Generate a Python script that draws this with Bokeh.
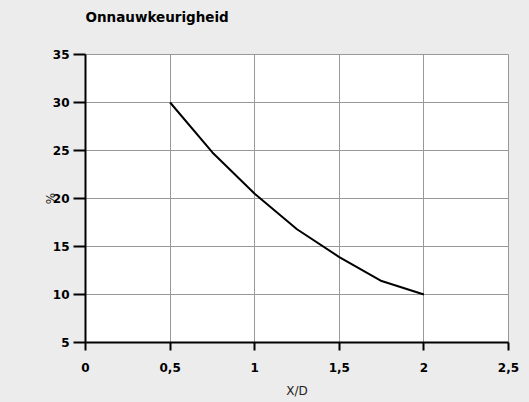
from bokeh.plotting import figure
from bokeh.embed import file_html
from bokeh.resources import INLINE
from bokeh.models import FixedTicker, Range1d, Title

x_vals = [0.5, 0.75, 1.0, 1.25, 1.5, 1.75, 2.0]
y_vals = [30.0, 24.8, 20.5, 16.8, 13.9, 11.4, 10.0]
x_ticks = [0, 0.5, 1, 1.5, 2, 2.5]
x_tick_labels = ["0", "0,5", "1", "1,5", "2", "2,5"]
y_ticks = [5, 10, 15, 20, 25, 30, 35]
title_text = "Onnauwkeurigheid"

BG = "#ececec"
FONT = "DejaVu Sans"

p = figure(frame_width=423, frame_height=288, output_backend="svg", toolbar_location=None,
           x_range=Range1d(0, 2.5), y_range=Range1d(5, 35),
           min_border_left=85, min_border_right=13, min_border_top=54, min_border_bottom=52)
p.background_fill_color = "white"
p.border_fill_color = BG
p.outline_line_color = "#999999"
p.outline_line_width = 1

# main title (outermost panel); an invisible spacer panel sits between it and the frame
p.title.text = title_text
p.title.text_font = FONT
p.title.text_font_size = "13.5px"
p.title.text_font_style = "bold"
p.title.text_color = "black"
p.title.align = "left"
p.title.offset = 0
p.title.standoff = 0
spacer = Title(text=" ", text_font_size="1px", standoff=27)
p.add_layout(spacer, "above")

p.line(x_vals, y_vals, line_color="black", line_width=2)

p.xaxis.ticker = FixedTicker(ticks=x_ticks)
p.xaxis.major_label_overrides = {t: l for t, l in zip(x_ticks, x_tick_labels)}
p.yaxis.ticker = FixedTicker(ticks=y_ticks)

for ax in (p.xaxis, p.yaxis):
    ax.axis_line_color = "black"
    ax.axis_line_width = 2
    ax.major_tick_line_color = "black"
    ax.major_tick_line_width = 2
    ax.minor_tick_line_color = None
    ax.major_tick_in = 0
    ax.major_label_text_font = FONT
    ax.major_label_text_font_style = "bold"
    ax.major_label_text_font_size = "12px"
    ax.major_label_text_color = "black"
    ax.axis_label_text_font = FONT
    ax.axis_label_text_font_style = "normal"
    ax.axis_label_text_font_size = "12px"
    ax.axis_label_text_color = "#222222"

p.xaxis.major_tick_out = 8
p.yaxis.major_tick_out = 12
p.xaxis.major_label_standoff = 12
p.yaxis.major_label_standoff = 4
p.xaxis.axis_label = "X/D"
p.yaxis.axis_label = "%"
p.xaxis.axis_label_standoff = 9
p.yaxis.axis_label_standoff = -8

p.grid.grid_line_color = "#999999"
p.grid.grid_line_width = 1

html = file_html(p, INLINE)
html = html.replace("<head>", "<head><style>body{background:#ececec;}</style>", 1)
open("out.html", "w").write(html)
